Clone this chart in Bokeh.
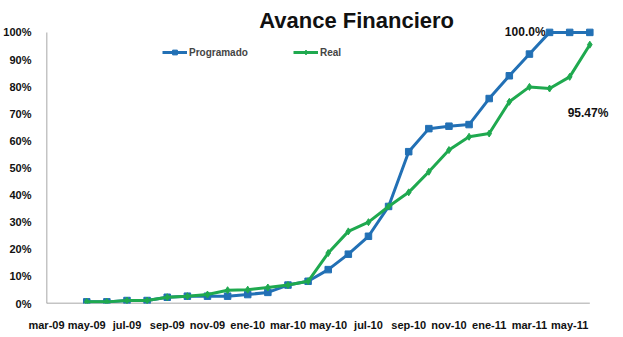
from bokeh.plotting import figure
from bokeh.models import Range1d, FixedTicker, Label, Legend, LegendItem, ColumnDataSource
from bokeh.embed import file_html
from bokeh.resources import INLINE

# Categories (monthly), mar-09 .. jun-11
months = ["mar-09", "abr-09", "may-09", "jun-09", "jul-09", "ago-09", "sep-09", "oct-09",
          "nov-09", "dic-09", "ene-10", "feb-10", "mar-10", "abr-10", "may-10", "jun-10",
          "jul-10", "ago-10", "sep-10", "oct-10", "nov-10", "dic-10", "ene-11", "feb-11",
          "mar-11", "abr-11", "may-11", "jun-11"]
tick_labels = ["mar-09", "may-09", "jul-09", "sep-09", "nov-09", "ene-10", "mar-10",
               "may-10", "jul-10", "sep-10", "nov-10", "ene-11", "mar-11", "may-11"]
data_months = months[2:]
programado = [0.6, 0.6, 1.1, 1.1, 2.3, 2.7, 2.7, 2.7, 3.3, 4.1, 6.8, 8.2, 12.5, 18.2,
              24.8, 35.8, 56.0, 64.5, 65.4, 66.0, 75.6, 84.0, 92.0, 100.0, 100.0, 100.0]
real = [0.6, 0.6, 1.1, 1.1, 2.3, 2.7, 3.3, 4.9, 5.1, 5.9, 6.8, 8.2, 18.6, 26.6,
        30.0, 35.8, 41.0, 48.6, 56.6, 61.5, 62.7, 74.4, 79.9, 79.3, 83.6, 95.47]
yticks = [0, 10, 20, 30, 40, 50, 60, 70, 80, 90, 100]

idx = {m: i for i, m in enumerate(months)}
xs = [idx[m] for m in data_months]
last = len(months) - 1

BLUE = "#2270B5"
GREEN = "#1FA94F"
FONT = "Liberation Sans"
AXIS_COLOR = "#8a8a8a"

# frame spans the whole top/right of the figure so labels are not clipped;
# the visible axis lines are drawn only over the data extent
p = figure(width=615, height=333, output_backend="svg", toolbar_location=None,
           x_range=Range1d(0, last * 576 / 550), y_range=Range1d(0, 100 * 304 / 272),
           min_border_left=39, min_border_right=0, min_border_top=0, min_border_bottom=29)
p.outline_line_color = None
p.xgrid.visible = False
p.ygrid.visible = False

# axis lines
p.segment(x0=[0], y0=[0], x1=[last], y1=[0], line_color=AXIS_COLOR, line_width=1.5)
p.segment(x0=[0], y0=[0], x1=[0], y1=[yticks[-1]], line_color=AXIS_COLOR, line_width=1.5)

src_p = ColumnDataSource(dict(x=xs, y=programado))
src_r = ColumnDataSource(dict(x=xs, y=real))

lp = p.line("x", "y", source=src_p, line_color=BLUE, line_width=3)
mp = p.scatter("x", "y", source=src_p, marker="square", size=6.5, fill_color=BLUE, line_color=BLUE)
lr = p.line("x", "y", source=src_r, line_color=GREEN, line_width=3)
mr = p.scatter("x", "y", source=src_r, marker="diamond", size=7, fill_color=GREEN, line_color=GREEN)

# axes
p.xaxis.ticker = FixedTicker(ticks=[idx[t] for t in tick_labels])
p.xaxis.major_label_overrides = {idx[t]: t for t in tick_labels}
p.yaxis.ticker = FixedTicker(ticks=yticks)
p.yaxis.major_label_overrides = {v: f"{v}%" for v in yticks}
for ax in (p.xaxis[0], p.yaxis[0]):
    ax.axis_line_color = None
    ax.major_tick_line_color = None
    ax.minor_tick_line_color = None
    ax.major_label_text_font = FONT
    ax.major_label_text_font_style = "bold"
    ax.major_label_text_font_size = "11px"
    ax.major_label_text_color = "#111111"
p.xaxis.major_label_standoff = 9
p.yaxis.major_label_standoff = 9

# title
p.add_layout(Label(x=15.41, y=104.4, text="Avance Financiero", text_align="center",
                   text_baseline="middle", text_font=FONT, text_font_style="bold",
                   text_font_size="22px", text_color="#111111"))

# value labels
p.add_layout(Label(x=idx["abr-11"], y=programado[-3], x_offset=-4, text="100.0%",
                   text_align="right", text_baseline="middle", text_font=FONT,
                   text_font_style="bold", text_font_size="12px", text_color="#111111"))
p.add_layout(Label(x=idx["may-11"], y=real[-1], x_offset=-2, y_offset=-68, text="95.47%",
                   text_align="left", text_baseline="middle", text_font=FONT,
                   text_font_style="bold", text_font_size="12px", text_color="#111111"))

legend = Legend(items=[LegendItem(label="Programado", renderers=[lp, mp]),
                       LegendItem(label="Real", renderers=[lr, mr])],
                location=(116, 245), orientation="horizontal")
legend.border_line_color = None
legend.background_fill_alpha = 0
legend.label_text_font = FONT
legend.label_text_font_style = "bold"
legend.label_text_font_size = "10px"
legend.glyph_width = 25
legend.glyph_height = 12
legend.spacing = 45
legend.padding = 0
legend.margin = 0
legend.label_standoff = 2
p.add_layout(legend, "center")

open("out.html", "w").write(file_html(p, INLINE))
